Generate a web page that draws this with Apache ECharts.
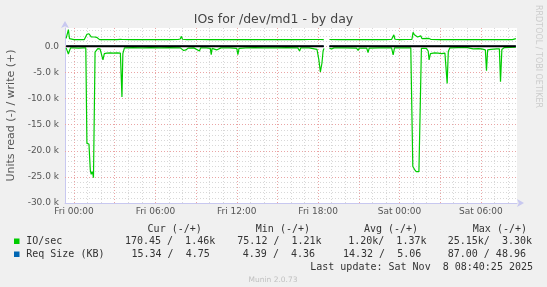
<!DOCTYPE html>
<html>
<head>
<meta charset="utf-8">
<script src="https://cdn.jsdelivr.net/npm/echarts@6/dist/echarts.min.js"></script>
<style>
html,body{margin:0;padding:0;background:#f0f0f0;}
#c{width:547px;height:287px;}
</style>
</head>
<body>
<div id="c"></div>
<script>
// ---- data (x = minutes since Fri 00:00, y = raw value) ----
const writeTimes  = [-35,-30,-25,-20,-15,0,20,45,52,57,61,66,71,76,90,100,106,113,150,190,205,210,215,260,300,340,380,420,460,470,475,480,500,540,552,556,560,600,640,680,720,760,800,840,880,920,960,1000,1040,1080,1085,1090,1105,1110,1125,1130,1170,1210,1250,1290,1330,1370,1405,1411,1415,1420,1440,1470,1495,1500,1506,1511,1520,1528,1534,1540,1545,1571,1580,1620,1660,1700,1740,1780,1820,1860,1900,1940,1955];
const writeValues = [1500,1300,3200,1450,1280,1270,1300,1270,1300,2300,2670,2400,2100,1800,1780,1720,1400,1270,1300,1280,1330,1650,1300,1270,1300,1260,1290,1270,1300,1400,1900,1350,1280,1300,1300,1500,1280,1270,1300,1260,1300,1280,1270,1300,1260,1300,1280,1270,1300,1300,1650,1300,1280,null,null,1300,1270,1300,1260,1300,1280,1270,1300,1500,2200,1350,1280,1300,1300,2670,2200,1850,1780,1800,2000,1450,1270,1500,1300,1270,1300,1280,1300,1270,1300,1280,1300,1290,1460];

const readTimes  = [-35,-30,-25,-20,-15,0,20,40,52,57,66,72,76,80,83,86,93,97,105,115,122,128,134,145,160,175,190,205,209,212,216,223,260,300,340,380,420,470,475,485,495,505,530,555,560,585,603,607,611,631,650,690,720,725,730,760,800,840,890,895,900,940,990,998,1003,1040,1075,1083,1090,1097,1102,1106,1110,1125,1130,1140,1150,1200,1250,1257,1262,1295,1301,1306,1350,1405,1412,1418,1460,1490,1493,1499,1507,1514,1526,1537,1559,1567,1571,1577,1582,1595,1611,1618,1626,1630,1641,1648,1651,1656,1663,1700,1740,1766,1790,1803,1810,1820,1825,1830,1844,1852,1870,1882,1887,1893,1904,1930,1955];
const readValues = [-300,-400,-1500,-800,-300,-300,-350,-300,-300,-18600,-18700,-23700,-24500,-24000,-24400,-25150,-1100,-900,-450,-500,-800,-2600,-1400,-1300,-1250,-1300,-1250,-1300,-1100,-9700,-1400,-300,-250,-300,-250,-300,-250,-300,-600,-800,-700,-350,-300,-900,-300,-300,-400,-1600,-400,-700,-300,-300,-400,-1600,-400,-300,-250,-300,-300,-600,-300,-250,-300,-900,-300,-300,-600,-2500,-4900,-3200,-900,-400,null,null,-400,-500,-300,-300,-350,-800,-350,-350,-1200,-350,-300,-300,-1650,-300,-300,-300,-400,-23000,-23600,-24000,-24000,-400,-400,-900,-2600,-1400,-1300,-1250,-1300,-1000,-1400,-1150,-1300,-1400,-7100,-1000,-300,-250,-250,-500,-450,-500,-600,-700,-4700,-700,-600,-500,-500,-500,-6800,-600,-250,-200,-170];

const reqTimes       = [-35,1105,1110,1125,1130,1955];
const reqReadValues  = [-14,-14,null,null,-15,-15];
const reqWriteValues = [5,5,null,null,4.75,4.75];
const zeroValues     = [0,0,null,null,0,0];

const xTickMinutes = [0,360,720,1080,1440,1800];
const xTickLabels  = ['Fri 00:00','Fri 06:00','Fri 12:00','Fri 18:00','Sat 00:00','Sat 06:00'];
const yTickValues  = [0,-5000,-10000,-15000,-20000,-25000,-30000];
const yTickLabels  = ['0.0','-5.0 k','-10.0 k','-15.0 k','-20.0 k','-25.0 k','-30.0 k'];

const legendHeader = ['Cur (-/+)','Min (-/+)','Avg (-/+)','Max (-/+)'];
const legendIO     = ['170.45 /  1.46k','75.12 /  1.21k','1.20k/  1.37k','25.15k/  3.30k'];
const legendReq    = ['15.34 /  4.75','4.39 /  4.36','14.32 /  5.06','87.00 / 48.96'];

// ---- build ----
const zip = (xs, ys) => xs.map((x, i) => [x, ys[i]]);
const minorX = []; for (let m = 0; m <= 1920; m += 60) minorX.push(m);
const majorX = []; for (let m = 0; m <= 1920; m += 180) majorX.push(m);
const minorY = []; for (let v = -29000; v <= 3000; v += 1000) minorY.push(v);
const majorY = []; for (let v = -25000; v <= 0; v += 5000) majorY.push(v);

const GREEN = '#00cc00', BLUE = '#0066b3';
const AXIS = '#c8c8f0';
const mono = '10px "DejaVu Sans Mono"';
const TXT = '#333';

function txt(text, x, y, opts) {
  return Object.assign({ type: 'text', x: x, y: y, z: 100,
    style: Object.assign({ text: text, font: mono, fill: TXT, textAlign: 'left', textVerticalAlign: 'middle', verticalAlign: 'middle' }, opts || {}) });
}

const hdrX = [147.6, 255.8, 363.9, 472.8];
const ioX  = [124.9, 237.3, 348.2, 447.7];
const rqX  = [131.5, 242.8, 343.0, 447.7];
const graphics = [
  txt('IOs for /dev/md1 - by day', 273.5, 20, { font: '12.5px "DejaVu Sans"', fill: '#444', textAlign: 'center' }),
  { type: 'text', x: 538.5, y: 5, rotation: -Math.PI / 2, z: 100,
    style: { text: 'RRDTOOL / TOBI OETIKER', font: '8px "DejaVu Sans"', fill: '#cccccc', textAlign: 'left', textVerticalAlign: 'middle', verticalAlign: 'middle' } },
  { type: 'rect', shape: { x: 14, y: 238.5, width: 5.5, height: 5.5 }, style: { fill: GREEN }, z: 100 },
  { type: 'rect', shape: { x: 14, y: 251.5, width: 5.5, height: 5.5 }, style: { fill: BLUE }, z: 100 },
  txt('IO/sec', 26.2, 241.4),
  txt('Req Size (KB)', 26.2, 254.3),
  txt('Last update: Sat Nov  8 08:40:25 2025', 533, 267.2, { textAlign: 'right' }),
  txt('Munin 2.0.73', 273, 279.8, { font: '7.5px "DejaVu Sans"', fill: '#c0c0c0', textAlign: 'center' })
];
legendHeader.forEach((t, i) => graphics.push(txt(t, hdrX[i], 229.2)));
legendIO.forEach((t, i) => graphics.push(txt(t, ioX[i], 241.4)));
legendReq.forEach((t, i) => graphics.push(txt(t, rqX[i], 254.3)));

const dotted = [1, 2];
const option = {
  backgroundColor: '#f0f0f0',
  animation: false,
  grid: { left: 65, top: 28, width: 452, height: 175, show: true, backgroundColor: '#ffffff', borderWidth: 0,
          containLabel: false, outerBoundsMode: 'none' },
  xAxis: [
    { type: 'value', min: -40, max: 1960, position: 'bottom', z: 3,
      axisLine: { show: true, onZero: false, lineStyle: { color: AXIS, width: 1 }, symbol: ['none', 'arrow'], symbolSize: [6, 7], symbolOffset: [0, 7] },
      axisTick: { show: false, customValues: minorX },
      splitLine: { show: true, lineStyle: { color: '#d8d8d8', type: dotted, width: 1 } },
      axisLabel: { customValues: xTickMinutes, formatter: v => xTickLabels[xTickMinutes.indexOf(v)] || '',
        color: '#555', fontFamily: 'DejaVu Sans', fontSize: 9, margin: 4 } },
    { type: 'value', min: -40, max: 1960, position: 'top', z: 4,
      axisLine: { show: false }, axisLabel: { show: false },
      axisTick: { show: false, customValues: majorX },
      splitLine: { show: true, lineStyle: { color: '#eaa5a5', type: dotted, width: 1 } } }
  ],
  yAxis: [
    { type: 'value', min: -30000, max: 3500, position: 'left', z: 3,
      name: 'Units read (-) / write (+)', nameLocation: 'middle', nameGap: 48,
      nameTextStyle: { color: '#555', fontFamily: 'DejaVu Sans', fontSize: 11 },
      axisLine: { show: true, onZero: false, lineStyle: { color: AXIS, width: 1 }, symbol: ['none', 'arrow'], symbolSize: [6, 7], symbolOffset: [0, 7] },
      axisTick: { show: false, customValues: minorY },
      splitLine: { show: true, lineStyle: { color: '#d8d8d8', type: dotted, width: 1 } },
      axisLabel: { customValues: yTickValues, formatter: v => yTickLabels[yTickValues.indexOf(v)] || '',
        color: '#555', fontFamily: 'DejaVu Sans', fontSize: 9, margin: 6 } },
    { type: 'value', min: -30000, max: 3500, position: 'right', z: 4,
      axisLine: { show: false }, axisLabel: { show: false },
      axisTick: { show: false, customValues: majorY },
      splitLine: { show: true, lineStyle: { color: '#eaa5a5', type: dotted, width: 1 } } }
  ],
  series: [
    { type: 'line', name: 'IO/sec read', data: zip(readTimes, readValues), showSymbol: false, connectNulls: false,
      lineStyle: { color: GREEN, width: 1.2 }, itemStyle: { color: GREEN }, z: 5 },
    { type: 'line', name: 'IO/sec write', data: zip(writeTimes, writeValues), showSymbol: false, connectNulls: false,
      lineStyle: { color: GREEN, width: 1.2 }, itemStyle: { color: GREEN }, z: 5 },
    { type: 'line', name: 'Req read', data: zip(reqTimes, reqReadValues), showSymbol: false,
      lineStyle: { color: BLUE, width: 1 }, z: 6 },
    { type: 'line', name: 'Req write', data: zip(reqTimes, reqWriteValues), showSymbol: false,
      lineStyle: { color: BLUE, width: 1 }, z: 6 },
    { type: 'line', name: 'zero', data: zip(reqTimes, zeroValues), showSymbol: false,
      lineStyle: { color: '#000000', width: 2 }, z: 7 }
  ],
  graphic: graphics
};
const chart = echarts.init(document.getElementById('c'), null, { renderer: 'canvas' });
chart.setOption(option);
</script>
</body>
</html>
